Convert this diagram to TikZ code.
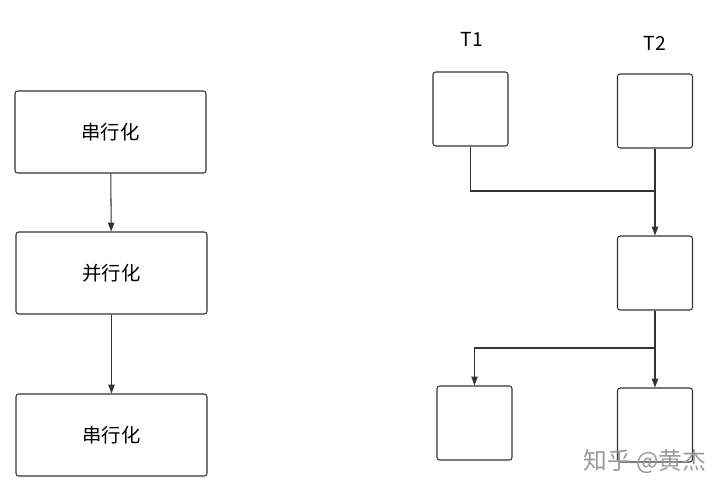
\documentclass[tikz,border=0pt]{standalone}
\usepackage{fontspec}
\setmainfont{Noto Sans CJK SC}
\usepackage{tikz}
\usetikzlibrary{arrows.meta,positioning}

\begin{document}
\begin{tikzpicture}[x=0.02cm,y=-0.02cm,>={Triangle[length=5pt,width=3.6pt]},font=\fontsize{11}{13}\selectfont,
  line/.style={draw=black!80,line width=0.6pt},
  wide/.style={line,rounded corners=1.5pt,minimum width=3.82cm,minimum height=1.64cm,inner sep=0pt},
  sq/.style={line,rounded corners=1.5pt,minimum width=1.5cm,minimum height=1.48cm,inner sep=0pt}]
  \useasboundingbox (0,0) rectangle (720,491);
  % left: serial / parallel / serial
  \node[wide] (s1) at (110.5,132) {串行化};
  \node[wide] (p2) at (111.5,273) {并行化};
  \node[wide] (s3) at (111.5,435) {串行化};
  \draw[line,->] (s1) -- (p2);
  \draw[line,->] (p2) -- (s3);
  % right: two threads join, then fork
  \node[sq] (t1) at (470.5,109) {};  \node[sq] (t2) at (655,111) {};
  \node (l1) at (472,39) {T1};  \node (l2) at (655,43) {T2};
  \node[sq] (m) at (655,273) {};
  \node[sq] (bl) at (474.5,423) {};  \node[sq] (br) at (655,425) {};
  \coordinate (j1) at (655,191);  \coordinate (j2) at (655,348);
  \draw[line] (t1) |- (j1);
  \draw[line,->] (t2) -- (m);
  \draw[line,->] (m) -- (br);
  \draw[line,->] (j2) -| (bl);
  \node[text=black!40,font=\fontsize{13.5}{15}\selectfont] (wm) at (645,462) {知乎 @黄杰};
\end{tikzpicture}
\end{document}
